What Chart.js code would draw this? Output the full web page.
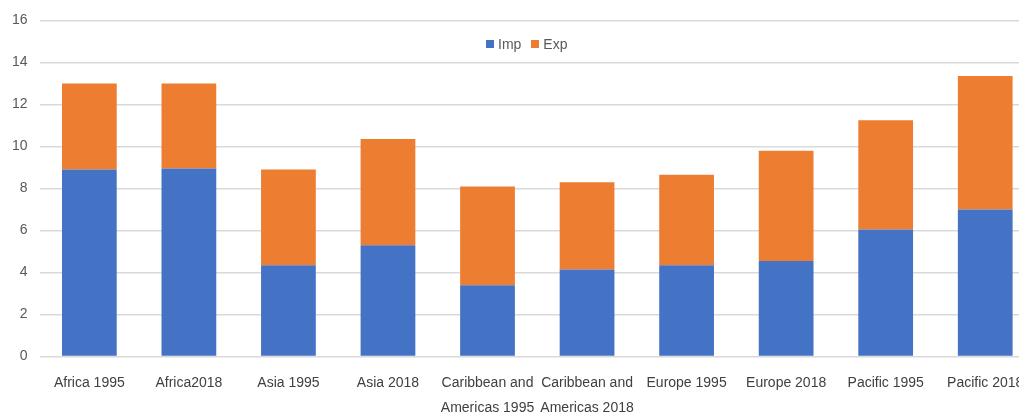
<!DOCTYPE html>
<html>
<head>
<meta charset="utf-8">
<script src="https://cdn.jsdelivr.net/npm/chart.js@4/dist/chart.umd.min.js"></script>
<style>
  html, body { margin: 0; padding: 0; background: #fff; overflow: hidden; }
  #wrap { position: relative; width: 1035px; height: 414px; }
  #legend { position: absolute; top: 36px; left: 486px; font: 14px 'Liberation Sans', sans-serif; color: #595959; display: flex; gap: 10px; }
  #legend span.item { display: flex; align-items: center; gap: 4px; }
  #legend i { display: inline-block; width: 8px; height: 8px; }
</style>
</head>
<body>
<div id="wrap">
  <canvas id="chart" width="1035" height="414"></canvas>
  <div id="legend"></div>
</div>
<script>
// --- DATOS ---
const categories = [
  'Africa 1995', 'Africa2018', 'Asia 1995', 'Asia 2018',
  ['Caribbean and', 'Americas 1995'], ['Caribbean and', 'Americas 2018'],
  'Europe 1995', 'Europe 2018', 'Pacific 1995', 'Pacific 2018'
];
const impValues = [8.9, 8.95, 4.35, 5.3, 3.4, 4.15, 4.35, 4.55, 6.05, 7.0];
const expValues = [4.1, 4.05, 4.55, 5.05, 4.7, 4.15, 4.3, 5.25, 5.2, 6.35];
const yTicks = [0, 2, 4, 6, 8, 10, 12, 14, 16];

const FONT = "'Liberation Sans', sans-serif";
const series = [
  { label: 'Imp', data: impValues, color: '#4472C4' },
  { label: 'Exp', data: expValues, color: '#ED7D31' }
];

const chart = new Chart(document.getElementById('chart'), {
  type: 'bar',
  data: {
    labels: categories,
    datasets: series.map(s => ({
      label: s.label,
      data: s.data,
      backgroundColor: s.color,
      borderWidth: 0,
      barPercentage: 0.55,
      categoryPercentage: 1
    }))
  },
  options: {
    responsive: false,
    animation: false,
    layout: { padding: { left: 0, right: 0, top: 14, bottom: -13 } },
    plugins: { legend: { display: false }, tooltip: { enabled: false } },
    scales: {
      x: {
        stacked: true,
        grid: { display: false },
        border: { display: false },
        ticks: { color: '#404040', font: { family: FONT, size: 14, lineHeight: 1.8 }, padding: 6, maxRotation: 0, autoSkip: false }
      },
      y: {
        stacked: true,
        min: 0, max: 16,
        afterBuildTicks: axis => { axis.ticks = yTicks.map(v => ({ value: v })); },
        grid: { color: '#D9D9D9', lineWidth: 1.5, drawTicks: false },
        border: { display: false },
        ticks: { color: '#595959', font: { family: FONT, size: 14 }, padding: 12 }
      }
    }
  }
});

// leyenda HTML
const legend = document.getElementById('legend');
series.forEach(s => {
  const item = document.createElement('span');
  item.className = 'item';
  item.innerHTML = `<i style="background:${s.color}"></i>${s.label}`;
  legend.appendChild(item);
});
</script>
</body>
</html>
